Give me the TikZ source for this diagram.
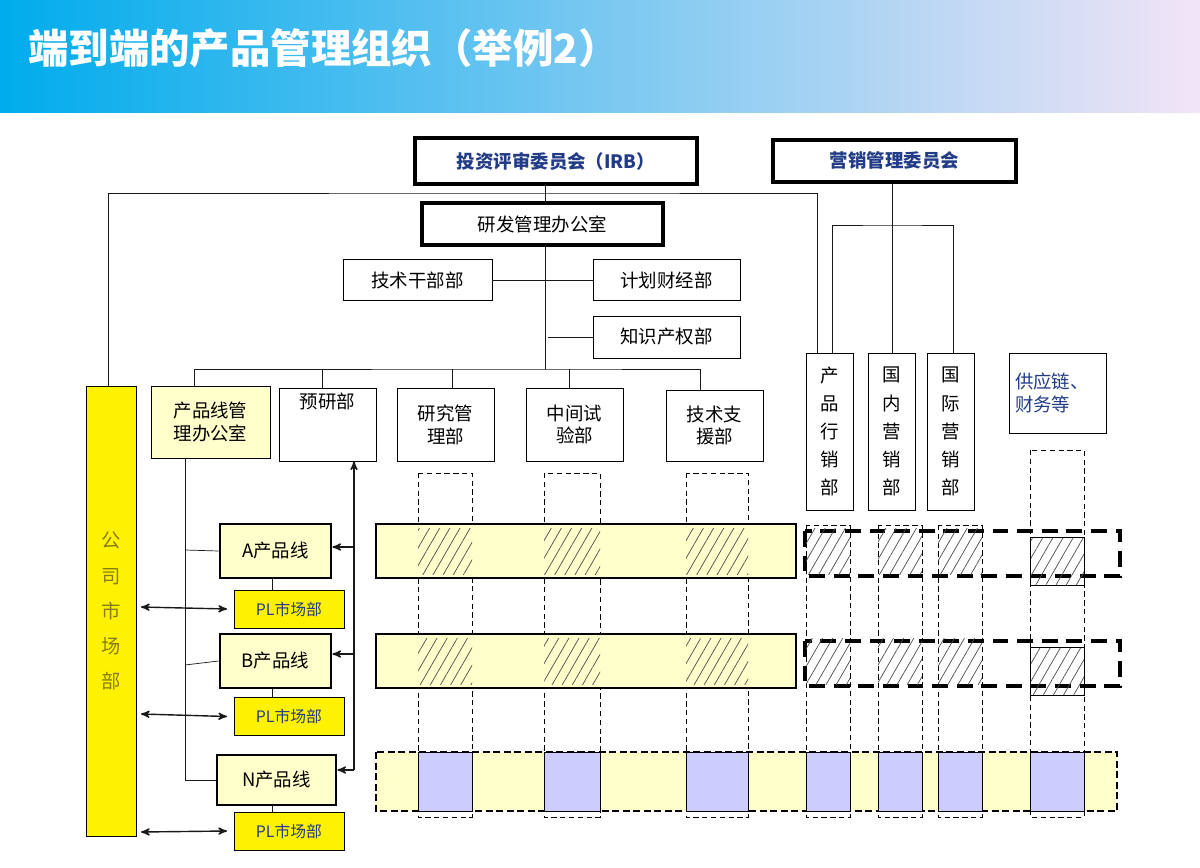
\documentclass[tikz,border=0pt]{standalone}
\usepackage{fontspec}
\setmainfont{Noto Sans CJK SC}
\usetikzlibrary{arrows,patterns.meta}
\definecolor{ttlA}{RGB}{0,172,236}
\definecolor{ttlB}{RGB}{150,200,250}
\definecolor{ttlC}{RGB}{242,228,246}
\definecolor{pale}{RGB}{255,255,204}
\definecolor{lilac}{RGB}{204,204,255}
\definecolor{navy}{RGB}{35,60,135}
\definecolor{olive}{RGB}{135,125,20}
\tikzset{>=stealth'}
\tikzset{box/.style={draw,thin,inner sep=1pt,align=center,font=\fontsize{10.5}{13}\selectfont,fill=white}}
\tikzset{boss/.style={box,line width=2pt,font=\bfseries\fontsize{10.5}{13}\selectfont,text=navy}}
\tikzset{line/.style={draw,thin,gray!20!black}}
\tikzset{vtext/.style={box,align=center,font=\fontsize{10.5}{16}\selectfont}}
\tikzset{pl/.style={box,line width=1.6pt,fill=pale}}
\tikzset{mkt/.style={box,fill=yellow,text=navy,font=\fontsize{9}{11}\selectfont}}
\tikzset{col/.style={draw,thin,dash pattern=on 3pt off 2pt}}
\tikzset{hatch/.style={pattern={Lines[angle=60,distance=5pt,line width=0.4pt]},pattern color=black!70}}
\tikzset{arr/.style={line,line width=0.8pt}}

\begin{document}
\begin{tikzpicture}[x=0.02cm,y=-0.02cm]
\useasboundingbox (0,0) rectangle (1200,868);
\shade[left color=ttlA,middle color=ttlB,right color=ttlC] (0,0) rectangle (1200,113);
\node[anchor=west,text=white,font=\bfseries\fontsize{23}{27}\selectfont] (title) at (22,48) {端到端的产品管理组织（举例2）};

% committees and office
\node[boss,minimum width=5.64cm,minimum height=0.92cm] (irb) at (556,161) {投资评审委员会（IRB）};
\node[boss,minimum width=4.86cm,minimum height=0.84cm] (mkc) at (894.5,161) {营销管理委员会};
\node[box,line width=2pt,minimum width=4.82cm,minimum height=0.84cm] (rdo) at (542.5,224) {研发管理办公室};
\node[box,minimum width=2.98cm,minimum height=0.82cm] (jsg) at (417.5,280) {技术干部部};
\node[box,minimum width=2.94cm,minimum height=0.82cm] (jhc) at (666.5,280) {计划财经部};
\node[box,minimum width=2.94cm,minimum height=0.84cm] (zscq) at (666.5,337) {知识产权部};

% departments
\node[box,fill=pale,minimum width=2.38cm,minimum height=1.44cm] (cpo) at (210.5,422) {产品线管\\理办公室};
\node[box,minimum width=1.94cm,minimum height=1.46cm] (yyb) at (327.5,424.5) {预研部\\[1.3em]};
\node[box,minimum width=1.94cm,minimum height=1.46cm] (yjgl) at (445.5,424.5) {研究管\\理部};
\node[box,minimum width=1.94cm,minimum height=1.46cm] (zjsy) at (574.5,424.5) {中间试\\验部};
\node[box,minimum width=1.94cm,minimum height=1.42cm] (jszy) at (714.5,425.5) {技术支\\援部};
\node[vtext,minimum width=0.94cm,minimum height=3.14cm] (cpxs) at (829.5,431.5) {产\\品\\行\\销\\部};
\node[vtext,minimum width=0.94cm,minimum height=3.14cm] (gn) at (891.5,431.5) {国\\内\\营\\销\\部};
\node[vtext,minimum width=0.94cm,minimum height=3.14cm] (gj) at (950.5,431.5) {国\\际\\营\\销\\部};
\node[box,text=navy,minimum width=1.94cm,minimum height=1.6cm,text width=1.7cm,align=left] (gyl) at (1057.5,393) {供应链、\\财务等\\[0.8em]};
\node[vtext,fill=yellow,text=olive,minimum width=1.0cm,minimum height=9.0cm,font=\fontsize{11}{20}\selectfont] (gssc) at (111,611) {公\\司\\市\\场\\部};

% column guides
\foreach \xa/\xb/\ya in {418/472/473,544/600/473,686/748/473,806/850/525,878/922/525,938/982/525,1030/1084/450}
  \draw[col] (\xa,\ya) rectangle (\xb,817);

% product line bars
\foreach \ya/\yb in {524/578,634/688}{
  \draw[line width=1.6pt,fill=pale] (376,\ya) rectangle (796,\yb);
  \draw[line width=1.8pt,dash pattern=on 9pt off 5pt] (805,\ya+7) rectangle (1120,\yb-2);
  \foreach \xa/\xb in {418/472,544/600,686/748,806/850,878/922,938/982}
    \fill[hatch] (\xa,\ya+4) rectangle (\xb,\yb-4);
  \draw[thin,hatch] (1030,\ya+13) rectangle (1084,\yb+7);
}
\draw[line width=1pt,fill=pale,dash pattern=on 4pt off 2pt] (376,752) rectangle (1117,811);
\foreach \xa/\xb in {418/472,544/600,686/748,806/850,878/922,938/982,1030/1084}
  \draw[thin,fill=lilac] (\xa,752) rectangle (\xb,811);

% product lines
\node[pl,minimum width=2.22cm,minimum height=1.08cm] (pa) at (275.5,551) {A产品线};
\node[pl,minimum width=2.22cm,minimum height=1.08cm] (pb) at (275.5,661) {B产品线};
\node[pl,minimum width=2.38cm,minimum height=1.0cm] (pn) at (276.5,780) {N产品线};
\node[mkt,minimum width=2.2cm,minimum height=0.76cm] (ma) at (289,609) {PL市场部};
\node[mkt,minimum width=2.2cm,minimum height=0.76cm] (mb) at (289,716.5) {PL市场部};
\node[mkt,minimum width=2.2cm,minimum height=0.76cm] (mn) at (289,831) {PL市场部};

% connectors
\coordinate (top) at (545,193);
\coordinate (trunk) at (545,369);
\draw[line] (irb.south -| top) -- (rdo.north -| top);
\draw[line] (gssc.north -| 108,0) |- (top) -| (cpxs.north -| 817,0);
\draw[line] (rdo.south -| top) -- (trunk);
\draw[line] (jsg.east) -- (jhc.west);
\draw[line] (548,337) -- (zscq.west);
\draw[line] (cpo.north -| 194,0) |- (trunk) -| (jszy.north -| 700,0);
\foreach \n/\x in {yyb/322,yjgl/452,zjsy/569}
  \draw[line] (\x,369) -- (\n.north -| \x,0);
\draw[line] (mkc.south -| 892,0) -- (gn.north -| 892,0);
\draw[line] (cpxs.north -| 832,0) |- (892,225) -| (gj.north -| 953,0);

\draw[line] (cpo.south -| 185,0) |- (pn.west);
\draw[line] (185,550) -- (pa.west);
\draw[line] (185,665) -- (pb.west);
\draw[line] (pa.south -| 272,0) -- (ma.north -| 272,0);
\draw[line] (pb.south -| 272,0) -- (mb.north -| 272,0);
\draw[line] (pn.south -| 272,0) -- (mn.north -| 272,0);
\draw[arr,<->] (141,607) -- (ma.west -| 227,0);
\draw[arr,<->] (141,714) -- (mb.west -| 227,0);
\draw[arr,<->] (141,832) -- (mn.west -| 227,0);
\draw[arr,->] (354,770) -- (yyb.south -| 354,0);
\draw[arr,->] (354,547) -- (pa.east |- 0,547);
\draw[arr,->] (354,654) -- (pb.east |- 0,654);
\draw[arr,->] (354,770) -- (pn.east |- 0,770);
\end{tikzpicture}
\end{document}
